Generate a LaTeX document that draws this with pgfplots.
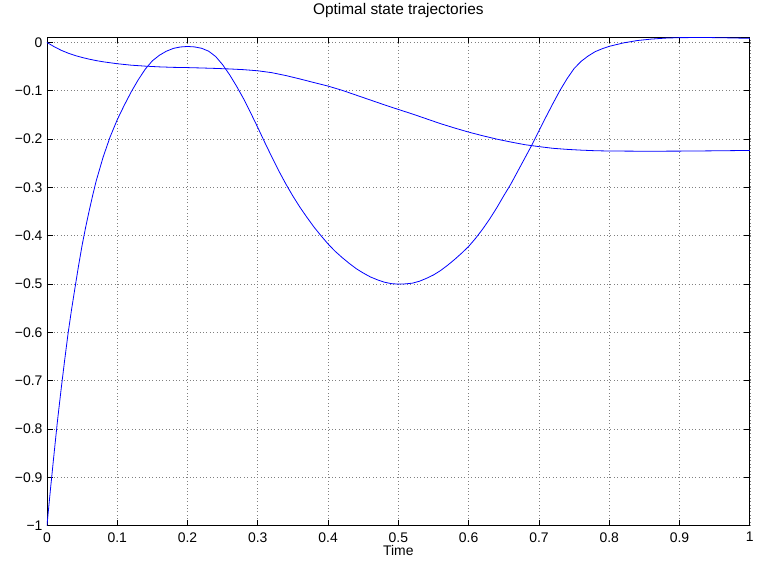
\documentclass[border=0pt]{standalone}
\usepackage{fontspec}
\setmainfont{Liberation Sans}
\usepackage{pgfplots}
\pgfplotsset{compat=1.18}
\begin{document}
\begin{tikzpicture}
\begin{axis}[
  scale only axis,
  width=704bp, height=489.4bp,
  xmin=0, xmax=1, ymin=-1, ymax=0.011,
  axis line style={line width=0.8bp},
  tick align=inside,
  major tick length=6bp,
  tick style={line width=0.8bp, black},
  xtick={0,0.1,...,1},
  xticklabels={0,0.1,0.2,0.3,0.4,0.5,0.6,0.7,0.8,0.9,1},
  ytick={-1,-0.9,-0.8,-0.7,-0.6,-0.5,-0.4,-0.3,-0.2,-0.1,0},
  yticklabels={−1,−0.9,−0.8,−0.7,−0.6,−0.5,−0.4,−0.3,−0.2,−0.1,0},
  ticklabel style={font=\fontsize{14}{16}\selectfont},
  xticklabel style={yshift=-3bp},
  yticklabel style={xshift=-1bp},
  grid=major,
  major grid style={dash pattern=on 0.8bp off 2.6bp, line width=0.6bp, black!50},
  title={Optimal state trajectories},
  title style={font=\fontsize{15.5}{18}\selectfont, yshift=10bp},
  xlabel={Time},
  xlabel style={font=\fontsize{14}{16}\selectfont, at={(axis description cs:0.5,0)}, anchor=north, yshift=-16bp},
]
\addplot[blue, line width=0.8bp, line join=round] coordinates {
(0,-1) (0.005,-0.925) (0.01,-0.853) (0.015,-0.783) (0.02,-0.72) (0.025,-0.66)
(0.03,-0.603) (0.035,-0.553) (0.04,-0.507) (0.045,-0.462) (0.05,-0.42)
(0.055,-0.383) (0.06,-0.349) (0.065,-0.317) (0.07,-0.287) (0.08,-0.237)
(0.09,-0.195) (0.10,-0.160) (0.11,-0.130) (0.12,-0.102) (0.13,-0.077)
(0.14,-0.055) (0.15,-0.038) (0.16,-0.0265) (0.17,-0.018) (0.18,-0.0122)
(0.19,-0.0093) (0.20,-0.0083) (0.21,-0.0092) (0.22,-0.012) (0.23,-0.018)
(0.24,-0.029) (0.25,-0.046) (0.26,-0.067) (0.27,-0.091) (0.28,-0.117)
(0.29,-0.146) (0.30,-0.176) (0.31,-0.207) (0.32,-0.237) (0.33,-0.266)
(0.34,-0.293) (0.35,-0.318) (0.36,-0.341) (0.37,-0.362) (0.38,-0.382)
(0.39,-0.400) (0.40,-0.417) (0.41,-0.432) (0.42,-0.445) (0.43,-0.457)
(0.44,-0.468) (0.45,-0.477) (0.46,-0.485) (0.47,-0.491) (0.48,-0.496)
(0.49,-0.499) (0.50,-0.500) (0.51,-0.4995) (0.52,-0.498) (0.53,-0.494)
(0.54,-0.488) (0.55,-0.481) (0.56,-0.472) (0.57,-0.461) (0.58,-0.449)
(0.59,-0.436) (0.60,-0.422) (0.61,-0.405) (0.62,-0.386) (0.63,-0.365)
(0.64,-0.342) (0.65,-0.317) (0.66,-0.293) (0.67,-0.266) (0.68,-0.239)
(0.69,-0.212) (0.70,-0.183) (0.71,-0.154) (0.72,-0.126) (0.73,-0.099)
(0.74,-0.075) (0.75,-0.054) (0.76,-0.039) (0.77,-0.028) (0.78,-0.019)
(0.79,-0.013) (0.80,-0.008) (0.82,-0.001) (0.84,0.004) (0.86,0.007)
(0.88,0.009) (0.90,0.010) (0.94,0.0102) (0.97,0.0095) (1.00,0.0085)
};
\addplot[blue, line width=0.8bp, line join=round] coordinates {
(0,0) (0.01,-0.0085) (0.02,-0.016) (0.03,-0.022) (0.04,-0.027) (0.05,-0.031)
(0.06,-0.0345) (0.07,-0.0375) (0.08,-0.040) (0.09,-0.042) (0.10,-0.044)
(0.12,-0.047) (0.14,-0.049) (0.16,-0.0505) (0.18,-0.0515) (0.20,-0.052)
(0.22,-0.0528) (0.24,-0.0537) (0.26,-0.0548) (0.28,-0.0563) (0.30,-0.0586)
(0.32,-0.0625) (0.34,-0.0685) (0.36,-0.0755) (0.38,-0.0830) (0.40,-0.0903)
(0.42,-0.099) (0.44,-0.109) (0.46,-0.119) (0.48,-0.129) (0.50,-0.1386)
(0.52,-0.148) (0.54,-0.158) (0.56,-0.168) (0.58,-0.177) (0.60,-0.1855)
(0.62,-0.193) (0.64,-0.200) (0.66,-0.206) (0.68,-0.2115) (0.70,-0.2155)
(0.72,-0.219) (0.74,-0.2212) (0.76,-0.2228) (0.78,-0.2240) (0.80,-0.2246)
(0.85,-0.2250) (0.90,-0.2248) (0.95,-0.2242) (1.00,-0.2234)
};
\end{axis}
\path ([shift={(-47bp,-40.3bp)}]current axis.south west) rectangle ([shift={(6bp,33.3bp)}]current axis.north east);
\end{tikzpicture}
\end{document}
